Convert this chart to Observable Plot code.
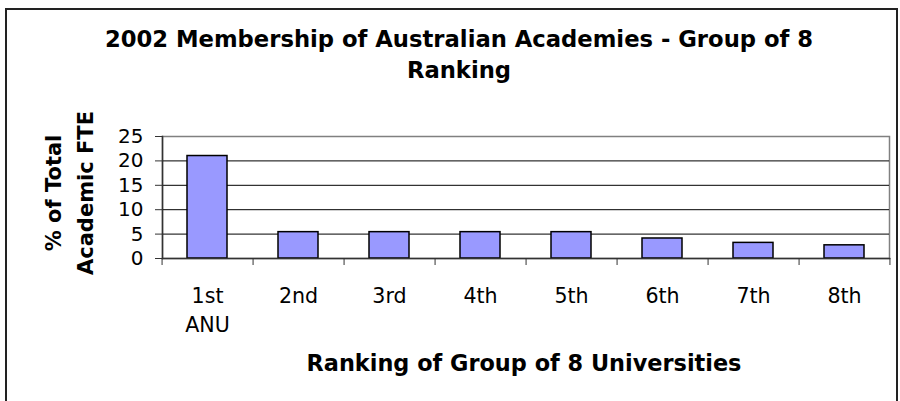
<!DOCTYPE html>
<html>
<head>
<meta charset="utf-8">
<script src="https://cdn.jsdelivr.net/npm/d3@7"></script>
<script src="https://cdn.jsdelivr.net/npm/@observablehq/plot@0.6"></script>
<style>
  html, body { margin: 0; padding: 0; background: #fff; }
  #wrap { position: relative; width: 900px; height: 401px; overflow: hidden; background: #fff;
          font-family: "DejaVu Sans", Verdana, sans-serif; color: #000; }
  #border { position: absolute; left: 5px; top: 8px; width: 893px; height: 400px; border: 2px solid #222; box-sizing: border-box; }
  #title { position: absolute; left: 0; width: 918px; top: 24px; text-align: center; font-weight: bold; font-size: 22.7px; line-height: 31px; }
  #xtitle { position: absolute; left: 0; width: 1048px; top: 351px; text-align: center; font-weight: bold; font-size: 22.4px; line-height: 24px; white-space: nowrap; }
  #ytitle { position: absolute; left: -50px; top: 161px; width: 240px; height: 64px; text-align: center; font-weight: bold; font-size: 21px; line-height: 32px; transform: rotate(-90deg); white-space: nowrap; }
  #chart { position: absolute; left: 0; top: 0; }
</style>
</head>
<body>
<div id="wrap">
  <div id="chart"></div>
  <div id="border"></div>
  <div id="title">2002 Membership of Australian Academies - Group of 8<br>Ranking</div>
  <div id="ytitle">% of Total<br>Academic FTE</div>
  <div id="xtitle">Ranking of Group of 8 Universities</div>
</div>
<script>
const categories = ["1st\nANU", "2nd", "3rd", "4th", "5th", "6th", "7th", "8th"];
const values = [21.0, 5.4, 5.4, 5.4, 5.4, 4.1, 3.2, 2.7];
const yTicks = [0, 5, 10, 15, 20, 25];
const gridValues = [5, 10, 15, 20];

const data = categories.map((c, i) => ({cat: c, val: values[i]}));

const W = 900, H = 401;
const mL = 162, mR = 11, mT = 136, mB = 143;
const step = (W - mL - mR) / categories.length;

const chart = Plot.plot({
  width: W, height: H,
  marginLeft: mL, marginRight: mR, marginTop: mT, marginBottom: mB,
  style: {fontFamily: "'DejaVu Sans', Verdana, sans-serif", fontSize: "20px", background: "transparent", color: "#000"},
  x: {domain: categories, paddingInner: 0.56, paddingOuter: 0.26, label: null},
  y: {domain: [0, 25], label: null},
  marks: [
    Plot.frame({stroke: "#808080", strokeWidth: 1.5}),
    Plot.ruleY(gridValues, {stroke: "#000", strokeWidth: 1}),
    Plot.barY(data, {x: "cat", y: "val", fill: "#9999FF", stroke: "#000", strokeWidth: 1.5}),
    Plot.frame({anchor: "left", stroke: "#333", strokeWidth: 1.5}),
    Plot.frame({anchor: "bottom", stroke: "#333", strokeWidth: 1.5}),
    Plot.axisY(yTicks, {tickSize: 7, tickPadding: 12, fontSize: 20, label: null, stroke: "#333"}),
    Plot.axisX({text: null, tickSize: 7, dx: -step / 2, label: null, stroke: "#333"}),
    Plot.axisX([categories[categories.length - 1]], {text: null, tickSize: 7, dx: step / 2, label: null, stroke: "#333"}),
    Plot.axisX({tickSize: 0, tickPadding: 24, fontSize: 20.6, lineHeight: 1.4, label: null})
  ]
});
document.getElementById("chart").appendChild(chart);
</script>
</body>
</html>
